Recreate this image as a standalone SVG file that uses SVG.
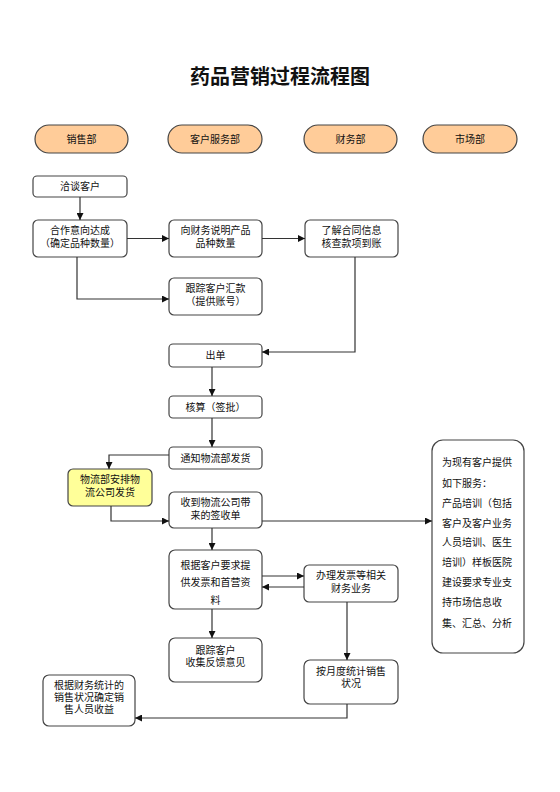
<svg xmlns="http://www.w3.org/2000/svg" width="560" height="792" viewBox="0 0 560 792">
<style>
text{font-family:"Liberation Sans","Noto Sans CJK SC",sans-serif;font-size:10px;fill:#111;text-anchor:middle}
.title{font-size:20px;font-weight:bold}
.hdr{fill:#FFCC99;stroke:#444;stroke-width:1.2}
.box{fill:#fff;stroke:#444;stroke-width:1.2}
.yel{fill:#FFFF99;stroke:#444;stroke-width:1.2}
.ln{fill:none;stroke:#333;stroke-width:1.2;marker-end:url(#ah)}
.lt{text-anchor:start}
</style>
<defs>
<marker id="ah" viewBox="0 0 10 10" refX="10" refY="5" markerWidth="7" markerHeight="7" markerUnits="userSpaceOnUse" orient="auto">
<path d="M0,0 L10,5 L0,10 z" fill="#111"/>
</marker>
</defs>
<rect width="560" height="792" fill="#fff"/>
<text class="title" x="280" y="84">药品营销过程流程图</text>

<g id="h1"><rect class="hdr" x="35" y="125" width="93" height="28" rx="14"/><text x="81.5" y="142.5">销售部</text></g>
<g id="h2"><rect class="hdr" x="168" y="125" width="94" height="28" rx="14"/><text x="215" y="142.5">客户服务部</text></g>
<g id="h3"><rect class="hdr" x="304" y="125" width="93" height="28" rx="14"/><text x="350.5" y="142.5">财务部</text></g>
<g id="h4"><rect class="hdr" x="423" y="125" width="94" height="28" rx="14"/><text x="470" y="142.5">市场部</text></g>

<g id="n1"><rect class="box" x="33" y="176" width="94" height="21" rx="4"/><text x="80" y="190">洽谈客户</text></g>
<g id="n2"><rect class="box" x="33" y="220" width="94" height="37" rx="5"/><text x="80" y="234">合作意向达成</text><text x="80" y="247">（确定品种数量）</text></g>
<g id="n3"><rect class="box" x="169" y="220" width="93" height="37" rx="5"/><text x="215.5" y="234">向财务说明产品</text><text x="215.5" y="247">品种数量</text></g>
<g id="n4"><rect class="box" x="305" y="220" width="93" height="37" rx="5"/><text x="351.5" y="234">了解合同信息</text><text x="351.5" y="247">核查款项到账</text></g>
<g id="n5"><rect class="box" x="169" y="278" width="93" height="37" rx="5"/><text x="215.5" y="292">跟踪客户汇款</text><text x="215.5" y="305">（提供账号）</text></g>
<g id="n6"><rect class="box" x="169" y="344" width="93" height="23" rx="4"/><text x="215.5" y="359">出单</text></g>
<g id="n7"><rect class="box" x="169" y="396" width="93" height="22" rx="4"/><text x="215.5" y="410.5">核算（签批）</text></g>
<g id="n8"><rect class="box" x="169" y="447" width="93" height="22" rx="4"/><text x="215.5" y="461.5">通知物流部发货</text></g>
<g id="n9"><rect class="yel" x="68" y="469" width="84" height="37" rx="5"/><text x="110" y="483">物流部安排物</text><text x="110" y="496">流公司发货</text></g>
<g id="n10"><rect class="box" x="169" y="492" width="93" height="36" rx="5"/><text x="215.5" y="506">收到物流公司带</text><text x="215.5" y="519">来的签收单</text></g>
<g id="n11"><rect class="box" x="169" y="550" width="93" height="59" rx="6"/><text x="215.5" y="569">根据客户要求提</text><text x="215.5" y="586">供发票和首营资</text><text x="215.5" y="604">料</text></g>
<g id="n12"><rect class="box" x="304" y="565" width="94" height="37" rx="5"/><text x="351" y="579">办理发票等相关</text><text x="351" y="592">财务业务</text></g>
<g id="n13"><rect class="box" x="169" y="638" width="93" height="44" rx="6"/><text x="215.5" y="654">跟踪客户</text><text x="215.5" y="666">收集反馈意见</text></g>
<g id="n14"><rect class="box" x="304" y="660" width="94" height="44" rx="6"/><text x="351" y="675">按月度统计销售</text><text x="351" y="687">状况</text></g>
<g id="n15"><rect class="box" x="43" y="675" width="92" height="51" rx="6"/><text x="89" y="689">根据财务统计的</text><text x="89" y="701">销售状况确定销</text><text x="89" y="713">售人员收益</text></g>
<g id="n16"><rect class="box" x="432" y="440" width="92" height="213" rx="11"/>
<text class="lt" x="442" y="466">为现有客户提供</text>
<text class="lt" x="442" y="487">如下服务：</text>
<text class="lt" x="442" y="507">产品培训（包括</text>
<text class="lt" x="442" y="527">客户及客户业务</text>
<text class="lt" x="442" y="546">人员培训、医生</text>
<text class="lt" x="442" y="566">培训）样板医院</text>
<text class="lt" x="442" y="586">建设要求专业支</text>
<text class="lt" x="442" y="606">持市场信息收</text>
<text class="lt" x="442" y="627">集、汇总、分析</text>
</g>

<g id="connectors">
<path class="ln" d="M80,197 V220"/>
<path class="ln" d="M127,238.5 H169"/>
<path class="ln" d="M262,238.5 H305"/>
<path class="ln" d="M77,257 V299 H169"/>
<path class="ln" d="M355,257 V352 H262"/>
<path class="ln" d="M212,367 V396"/>
<path class="ln" d="M212,418 V447"/>
<path class="ln" d="M169,455 H109 V469"/>
<path class="ln" d="M111,506 V521 H169"/>
<path class="ln" d="M262,521 H432"/>
<path class="ln" d="M212,528 V550"/>
<path class="ln" d="M262,576 H304"/>
<path class="ln" d="M304,587 H262"/>
<path class="ln" d="M212,609 V638"/>
<path class="ln" d="M347,602 V660"/>
<path class="ln" d="M347,704 V718 H135"/>
</g>
</svg>
